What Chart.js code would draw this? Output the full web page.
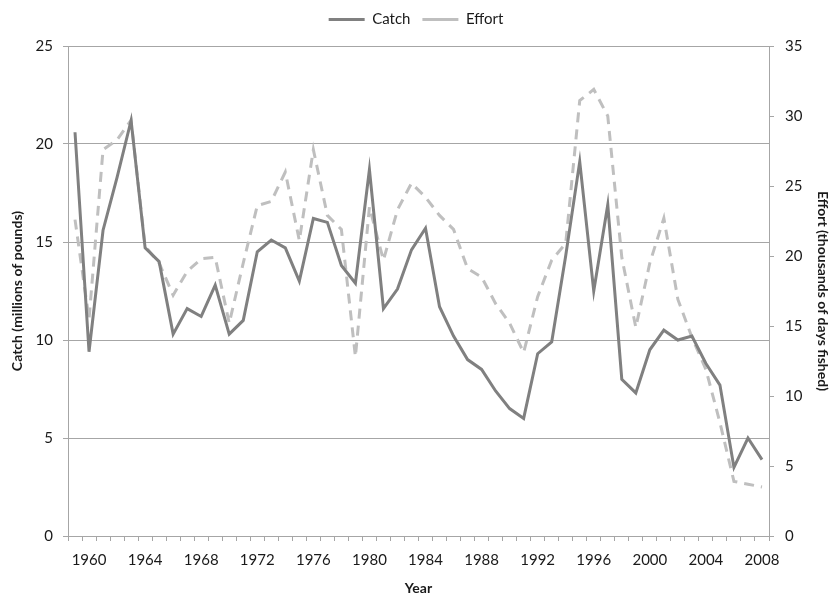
<!DOCTYPE html>
<html>
<head>
<meta charset="utf-8">
<script src="https://cdn.jsdelivr.net/npm/chart.js@4.4.1/dist/chart.umd.min.js"></script>
<style>
  body { margin: 0; background: #fff; }
  canvas { display: block; }
</style>
</head>
<body>
<canvas id="fishChart" width="832" height="604"></canvas>
<script>
const years = [];
for (let y = 1959; y <= 2008; y++) years.push(y);

// millions of pounds
const catchVals = [
  20.6, 9.4, 15.6, 18.3, 21.2, 14.7, 14.0, 10.3, 11.6, 11.2,
  12.8, 10.3, 11.0, 14.5, 15.1, 14.7, 13.0, 16.2, 16.0, 13.8,
  12.9, 18.7, 11.6, 12.6, 14.6, 15.7, 11.7, 10.2, 9.0, 8.5,
  7.4, 6.5, 6.0, 9.3, 9.9, 14.3, 19.1, 12.5, 16.9, 8.0,
  7.3, 9.5, 10.5, 10.0, 10.2, 8.8, 7.7, 3.5, 5.0, 3.9
];

// thousands of days fished
const effortVals = [
  22.6, 15.5, 27.6, 28.3, 29.7, 20.7, 19.5, 17.2, 18.9, 19.8,
  19.9, 15.2, 19.5, 23.6, 23.9, 26.0, 21.1, 27.6, 22.9, 21.9,
  12.8, 23.5, 19.7, 23.3, 25.2, 24.2, 22.9, 21.9, 19.1, 18.5,
  16.6, 15.2, 13.1, 17.1, 19.7, 20.9, 31.1, 31.9, 30.0, 19.9,
  14.9, 19.5, 22.7, 16.9, 14.2, 11.9, 8.1, 3.9, 3.7, 3.5
];

const FONT = "Lato, 'Liberation Sans', sans-serif";
const axisGray = "#a6a6a6";
const textColor = "#1a1a1a";

const fixLegend = {
  id: "fixLegend",
  beforeInit(chart) {
    const fit = chart.legend.fit;
    chart.legend.fit = function () {
      fit.bind(this)();
      this.height = 46;
    };
  }
};

new Chart(document.getElementById("fishChart"), {
  type: "line",
  data: {
    labels: years,
    datasets: [
      {
        label: "Catch",
        data: catchVals,
        yAxisID: "y",
        borderColor: "#808080",
        backgroundColor: "#808080",
        borderWidth: 3,
        pointRadius: 0,
        tension: 0
      },
      {
        label: "Effort",
        data: effortVals,
        yAxisID: "y1",
        borderColor: "#bfbfbf",
        backgroundColor: "#bfbfbf",
        borderWidth: 3,
        borderDash: [10, 7],
        pointRadius: 0,
        tension: 0
      }
    ]
  },
  options: {
    responsive: false,
    animation: false,
    layout: { padding: 0 },
    plugins: {
      legend: {
        position: "top",
        labels: {
          usePointStyle: true,
          pointStyle: "line",
          pointStyleWidth: 36,
          boxHeight: 3,
          color: textColor,
          font: { family: FONT, size: 15 },
          padding: 12
        }
      },
      tooltip: { enabled: false }
    },
    scales: {
      x: {
        type: "category",
        offset: true,
        afterFit(s) { s.height = 68; },
        grid: {
          offset: true,
          drawOnChartArea: false,
          drawTicks: true,
          tickLength: 5,
          color: axisGray
        },
        border: { color: axisGray },
        ticks: {
          autoSkip: false,
          maxRotation: 0,
          padding: 10,
          color: textColor,
          font: { family: FONT, size: 15 },
          callback(v, i) {
            const yr = years[i];
            return (yr - 1960) % 4 === 0 ? String(yr) : "";
          }
        },
        title: {
          display: true,
          text: "Year",
          color: textColor,
          font: { family: FONT, size: 14, weight: "bold" },
          padding: { top: 0, bottom: 7 }
        }
      },
      y: {
        position: "left",
        min: 0,
        max: 25,
        afterFit(s) { s.width = 68; },
        grid: { color: axisGray, tickLength: 5 },
        border: { color: axisGray },
        ticks: {
          stepSize: 5,
          padding: 10,
          color: textColor,
          font: { family: FONT, size: 15 }
        },
        title: {
          display: true,
          text: "Catch (millions of pounds)",
          color: textColor,
          font: { family: FONT, size: 14, weight: "bold" },
          padding: { top: 9, bottom: 0 }
        }
      },
      y1: {
        position: "right",
        min: 0,
        max: 35,
        afterFit(s) { s.width = 63; },
        grid: { drawOnChartArea: false, color: axisGray, tickLength: 5 },
        border: { color: axisGray },
        ticks: {
          stepSize: 5,
          padding: 11,
          color: textColor,
          font: { family: FONT, size: 15 }
        },
        title: {
          display: true,
          text: "Effort (thousands of days fished)",
          color: textColor,
          font: { family: FONT, size: 14, weight: "bold" },
          padding: { top: 1, bottom: 0 }
        }
      }
    }
  },
  plugins: [fixLegend]
});
</script>
</body>
</html>
